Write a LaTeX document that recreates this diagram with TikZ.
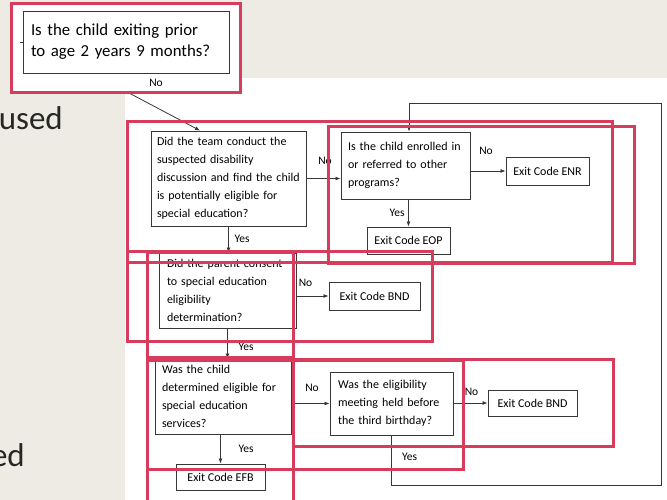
\documentclass[tikz,border=0pt]{standalone}
\usepackage{fontspec}
\setmainfont{Carlito}
\usetikzlibrary{arrows.meta}
\definecolor{slidebg}{RGB}{238,235,228}
\definecolor{hired}{RGB}{215,60,92}
\definecolor{inkgray}{RGB}{55,55,55}
\tikzset{
	qbox/.style={draw=inkgray, line width=0.9pt, fill=white, align=left, font=\fontsize{12}{18}\selectfont},
	exitbox/.style={draw=inkgray, line width=0.9pt, fill=white, inner sep=0pt, font=\fontsize{12}{14}\selectfont},
	lbl/.style={inner sep=0pt, font=\fontsize{11.5}{13}\selectfont},
	arr/.style={draw=inkgray, line width=0.8pt, -{Latex[length=5pt,width=4pt]}},
	wire/.style={draw=inkgray, line width=0.8pt},
	hilite/.style={draw=hired, line width=3pt}
}

\begin{document}
\begin{tikzpicture}[x=1pt, y=-1pt]

	\useasboundingbox (0,0) rectangle (667,500);
	\clip (0,0) rectangle (667,500);

	\fill[slidebg] (0,0) rectangle (667,500);
	\fill[white] (125,78) rectangle (667,500);
	\fill[white] (11,4) rectangle (240,93);

	\node[anchor=base east, inner sep=0pt, font=\fontsize{33}{36}\selectfont, text=black!85] (slidea) at (63,130) {used};
	\node[anchor=base east, inner sep=0pt, font=\fontsize{33}{36}\selectfont, text=black!85] (slideb) at (25,466) {ed};

	\node[qbox, inner xsep=8pt, text width=190pt, minimum height=62pt, font=\fontsize{16.8}{21}\selectfont] (exiting) at (126,42) {Is the child exiting prior\\to age 2 years 9 months?};
	\node[qbox, inner xsep=6pt, text width=143pt, minimum height=95pt] (team) at (228.5,178.5) {Did the team conduct the\\suspected disability\\discussion and find the child\\is potentially eligible for\\special education?};
	\node[qbox, inner xsep=7pt, text width=115pt, minimum height=67pt] (enrolled) at (405.5,165.5) {Is the child enrolled in\\or referred to other\\programs?};
	\node[qbox, inner xsep=8pt, text width=121pt, minimum height=75pt] (parent) at (227.5,290.5) {Did the parent consent\\to special education\\eligibility\\determination?};
	\node[qbox, inner xsep=7pt, text width=122pt, minimum height=75pt] (eligible) at (223,396.5) {Was the child\\determined eligible for\\special education\\services?};
	\node[qbox, inner xsep=8pt, text width=107pt, minimum height=63pt] (meeting) at (391.5,403.5) {Was the eligibility\\meeting held before\\the third birthday?};

	\node[exitbox, minimum width=83pt, minimum height=28pt] (enr) at (547.5,171) {Exit Code ENR};
	\node[exitbox, minimum width=83pt, minimum height=27pt] (eop) at (408.5,240.5) {Exit Code EOP};
	\node[exitbox, minimum width=91pt, minimum height=28pt] (bnda) at (374.5,296) {Exit Code BND};
	\node[exitbox, minimum width=89pt, minimum height=26pt] (bndb) at (532.5,403) {Exit Code BND};
	\node[exitbox, minimum width=89pt, minimum height=26pt] (efb) at (220.5,477) {Exit Code EFB};

	\coordinate (nofrom) at (129,93);
	\coordinate (loopse) at (661,485);
	\coordinate (loopne) at (661,103);

	\draw[wire] (exiting.west) -- ++(-3,0);
	\draw[arr] (nofrom) -- ([xshift=-28.5pt]team.north);
	\draw[arr] (team.east) -- (team.east -| enrolled.west);
	\draw[arr] (enrolled.east |- enr.west) -- (enr.west);
	\draw[arr] (enrolled.south -| eop.north) -- (eop.north);
	\draw[arr] (team.south) -- (team.south |- parent.north);
	\draw[arr] (parent.east |- bnda.west) -- (bnda.west);
	\draw[arr] (parent.south) -- (parent.south |- eligible.north);
	\draw[arr] (eligible.east |- meeting.west) -- (meeting.west);
	\draw[arr] (eligible.south -| efb.north) -- (efb.north);
	\draw[arr] (meeting.east |- bndb.west) -- (bndb.west);
	\draw[arr] (meeting.south) |- (loopse) -- (loopne) -| ([xshift=3.5pt]enrolled.north);

	\node[lbl] (no1) at (156,83) {No};
	\node[lbl] (no2) at (325,161) {No};
	\node[lbl] (no3) at (486,151) {No};
	\node[lbl] (no4) at (305.5,283) {No};
	\node[lbl] (no5) at (312,388) {No};
	\node[lbl] (no6) at (471.5,392) {No};
	\node[lbl] (yes1) at (242,239) {Yes};
	\node[lbl] (yes2) at (397,213) {Yes};
	\node[lbl] (yes3) at (246,347) {Yes};
	\node[lbl] (yes4) at (246,449) {Yes};
	\node[lbl] (yes5) at (409.5,457) {Yes};

	\draw[hilite] (11,4) rectangle (240,93);
	\draw[hilite] (127,122) rectangle (612,262);
	\draw[hilite] (328,127) rectangle (634,263);
	\draw[hilite] (127,251) rectangle (432,341);
	\draw[hilite] (147,252) rectangle (293,357);
	\draw[hilite] (147,360) rectangle (463,469);
	\draw[hilite] (293,359) rectangle (613,446);
	\draw[hilite] (147,357) rectangle (293,510);

\end{tikzpicture}
\end{document}
